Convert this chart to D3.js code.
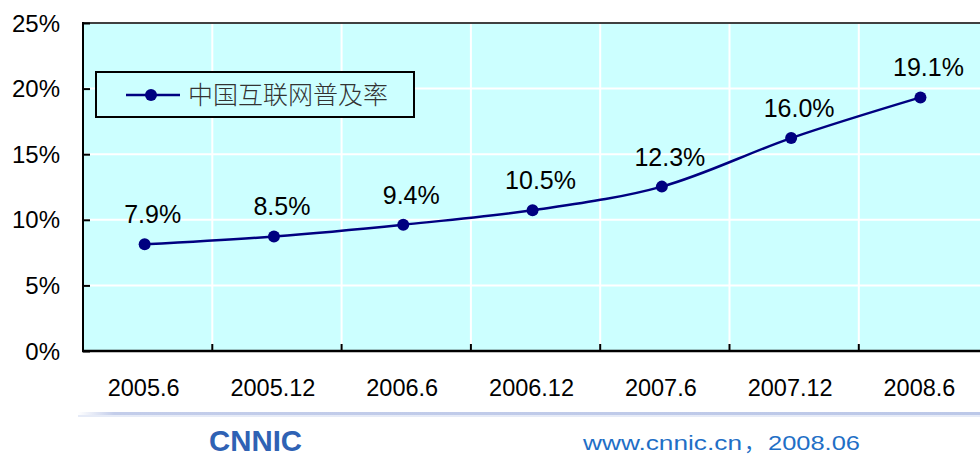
<!DOCTYPE html>
<html>
<head>
<meta charset="utf-8">
<script src="https://cdn.jsdelivr.net/npm/d3@7"></script>
<style>
  body { margin: 0; background: #ffffff; }
  svg text { font-family: "Liberation Sans", Arial, sans-serif; }
</style>
</head>
<body>
<div id="chart"></div>
<script>
// chart data
var periods = ["2005.6", "2005.12", "2006.6", "2006.12", "2007.6", "2007.12", "2008.6"];
var rates = [7.9, 8.5, 9.4, 10.5, 12.3, 16.0, 19.1];
var yTicks = [0, 5, 10, 15, 20, 25];
var seriesName = "中国互联网普及率";

var width = 980;
var height = 456;
var margin = {left: 83, top: 23, right: 0, bottom: 105};

var svg = d3.select("#chart")
  .append("svg")
  .attr("width", width)
  .attr("height", height);

// scales
var x = d3.scaleBand()
  .domain(periods)
  .range([margin.left, margin.left + 7 * 129.3]);
var y = d3.scaleLinear()
  .domain([0, 25])
  .range([height - margin.bottom, margin.top]);

// plot background
svg.append("rect")
  .attr("x", margin.left)
  .attr("y", y(25))
  .attr("width", width - margin.left)
  .attr("height", y(0) - y(25))
  .style("fill", "#ccffff");

// white grid lines
svg.selectAll(".hgrid")
  .data(yTicks.slice(1, 5))
  .enter()
  .append("line")
  .attr("x1", margin.left)
  .attr("x2", width)
  .attr("y1", function(d) { return y(d); })
  .attr("y2", function(d) { return y(d); })
  .style("stroke", "#ffffff")
  .style("stroke-width", 2);

svg.selectAll(".vgrid")
  .data(periods.slice(1))
  .enter()
  .append("line")
  .attr("x1", function(d) { return x(d); })
  .attr("x2", function(d) { return x(d); })
  .attr("y1", y(25))
  .attr("y2", y(0))
  .style("stroke", "#ffffff")
  .style("stroke-width", 2);

// top border
svg.append("line")
  .attr("x1", margin.left)
  .attr("x2", width)
  .attr("y1", y(25))
  .attr("y2", y(25))
  .style("stroke", "#404040")
  .style("stroke-width", 2);

// axes
var yAxis = d3.axisRight(y).tickValues(yTicks).tickSize(7).tickFormat("");
svg.append("g")
  .attr("transform", "translate(" + margin.left + ",0)")
  .call(yAxis)
  .call(function(g) {
    g.select(".domain").remove();
    g.selectAll("line").style("stroke", "#000").style("stroke-width", 2);
  });
svg.append("line")
  .attr("x1", margin.left).attr("x2", margin.left)
  .attr("y1", y(25) - 1).attr("y2", y(0) + 1)
  .style("stroke", "#000").style("stroke-width", 2);

var xAxis = d3.axisTop(x).tickValues(periods.slice(1)).tickSize(7).tickFormat("");
svg.append("g")
  .attr("transform", "translate(0," + y(0) + ")")
  .call(xAxis)
  .call(function(g) {
    g.select(".domain").remove();
    g.selectAll(".tick").attr("transform", function(d) { return "translate(" + x(d) + ",0)"; });
    g.selectAll("line").style("stroke", "#000").style("stroke-width", 2);
  });
svg.append("line")
  .attr("x1", margin.left - 1).attr("x2", width)
  .attr("y1", y(0)).attr("y2", y(0))
  .style("stroke", "#000").style("stroke-width", 2.5);

// y labels
svg.selectAll(".ylabel")
  .data(yTicks)
  .enter()
  .append("text")
  .attr("x", 60)
  .attr("y", function(d) { return y(d); })
  .attr("dy", "0.36em")
  .style("text-anchor", "end")
  .style("font-size", "24px")
  .style("fill", "#000")
  .text(function(d) { return d + "%"; });

// x labels
svg.selectAll(".xlabel")
  .data(periods)
  .enter()
  .append("text")
  .attr("x", function(d) { return x(d) + x.bandwidth() / 2 - 4; })
  .attr("y", 396)
  .style("text-anchor", "middle")
  .style("font-size", "23.5px")
  .style("fill", "#000")
  .text(function(d) { return d; });

// series, drawn slightly up-left as in the original
var series = svg.append("g").attr("transform", "translate(-3,-3)");

var line = d3.line()
  .x(function(d, i) { return x(periods[i]) + x.bandwidth() / 2; })
  .y(function(d) { return y(d); })
  .curve(d3.curveCatmullRom);

series.append("path")
  .datum(rates)
  .attr("d", line)
  .style("fill", "none")
  .style("stroke", "#000080")
  .style("stroke-width", 2.5);

series.selectAll("circle")
  .data(rates)
  .enter()
  .append("circle")
  .attr("cx", function(d, i) { return x(periods[i]) + x.bandwidth() / 2; })
  .attr("cy", function(d) { return y(d); })
  .attr("r", 6)
  .style("fill", "#000080");

series.selectAll(".dlabel")
  .data(rates)
  .enter()
  .append("text")
  .attr("x", function(d, i) { return x(periods[i]) + x.bandwidth() / 2 + 8; })
  .attr("y", function(d) { return y(d) - 21; })
  .style("text-anchor", "middle")
  .style("font-size", "25px")
  .style("fill", "#000")
  .text(function(d) { return d.toFixed(1) + "%"; });

// legend
var legend = svg.append("g");
legend.append("rect")
  .attr("x", 96)
  .attr("y", 72)
  .attr("width", 318)
  .attr("height", 45)
  .style("fill", "#ccffff")
  .style("stroke", "#000")
  .style("stroke-width", 2);
legend.append("line")
  .attr("x1", 126).attr("x2", 180)
  .attr("y1", 95).attr("y2", 95)
  .style("stroke", "#000080")
  .style("stroke-width", 2.5);
legend.append("circle")
  .attr("cx", 151).attr("cy", 95).attr("r", 6)
  .style("fill", "#000080");
legend.append("text")
  .attr("x", 188)
  .attr("y", 104)
  .style("font-family", "'Noto Sans CJK SC', sans-serif")
  .style("font-weight", 300)
  .style("font-size", "25px")
  .style("fill", "#333")
  .text(seriesName);

// footer rule with gradient
var defs = svg.append("defs");
var grad = defs.append("linearGradient")
  .attr("id", "rule")
  .attr("x1", "0").attr("x2", "1").attr("y1", "0").attr("y2", "0");
grad.append("stop").attr("offset", "0").attr("stop-color", "#ffffff");
grad.append("stop").attr("offset", "0.04").attr("stop-color", "#c3cdea");
grad.append("stop").attr("offset", "1").attr("stop-color", "#bcc8e8");
svg.append("rect")
  .attr("x", 78)
  .attr("y", 412)
  .attr("width", width - 78)
  .attr("height", 3)
  .style("fill", "url(#rule)");
svg.append("rect")
  .attr("x", 78)
  .attr("y", 415)
  .attr("width", width - 78)
  .attr("height", 2)
  .style("fill", "#e6ebf7");

// logo
svg.append("text")
  .attr("x", 209)
  .attr("y", 451)
  .attr("textLength", 93)
  .attr("lengthAdjust", "spacingAndGlyphs")
  .style("font-size", "30px")
  .style("font-weight", "bold")
  .style("fill", "#2f62b4")
  .text("CNNIC");

// source line
var source = svg.append("text")
  .attr("y", 450)
  .style("font-size", "21px")
  .style("fill", "#1f6fc6");
source.append("tspan")
  .attr("x", 583)
  .attr("textLength", 159)
  .attr("lengthAdjust", "spacingAndGlyphs")
  .text("www.cnnic.cn");
source.append("tspan")
  .attr("x", 744)
  .style("font-family", "'Noto Sans CJK SC', sans-serif")
  .text("，");
source.append("tspan")
  .attr("x", 768)
  .attr("textLength", 92)
  .attr("lengthAdjust", "spacingAndGlyphs")
  .text("2008.06");
</script>
</body>
</html>
